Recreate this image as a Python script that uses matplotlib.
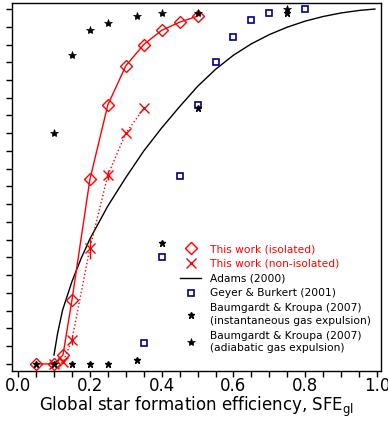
import matplotlib
matplotlib.use("Agg")
import matplotlib.pyplot as plt
from matplotlib.ticker import MultipleLocator, NullFormatter
from matplotlib.lines import Line2D

# ---- data ----
iso_x = [0.05, 0.10, 0.125, 0.15, 0.20, 0.25, 0.30, 0.35, 0.40, 0.45, 0.50]
iso_y = [0.0, 0.0, 0.025, 0.18, 0.52, 0.73, 0.84, 0.90, 0.94, 0.963, 0.98]

noniso_x = [0.10, 0.125, 0.15, 0.20, 0.25, 0.30, 0.35]
noniso_y = [0.0, 0.004, 0.068, 0.326, 0.532, 0.65, 0.72]
noniso_err = [0.0, 0.0, 0.014, 0.03, 0.014, 0.0, 0.0]

adams_x = [0.10, 0.110, 0.124, 0.15, 0.175, 0.20, 0.25, 0.30, 0.35, 0.40,
           0.45, 0.50, 0.55, 0.60, 0.65, 0.70, 0.75, 0.80, 0.85, 0.90, 0.95, 0.994]
adams_y = [0.025, 0.086, 0.152, 0.232, 0.296, 0.352, 0.445, 0.525, 0.60, 0.665,
           0.725, 0.782, 0.830, 0.870, 0.902, 0.928, 0.949, 0.966, 0.979, 0.989,
           0.996, 1.0]

gb_x = [0.35, 0.40, 0.45, 0.50, 0.55, 0.60, 0.65, 0.70, 0.80]
gb_y = [0.06, 0.30, 0.53, 0.73, 0.85, 0.92, 0.97, 0.99, 1.0]

bk_inst_x = [0.05, 0.10, 0.15, 0.20, 0.25, 0.33, 0.40, 0.50, 0.75]
bk_inst_y = [0.0, 0.0, 0.0, 0.0, 0.0, 0.01, 0.34, 0.72, 0.99]

bk_adia_x = [0.10, 0.15, 0.20, 0.25, 0.33, 0.40, 0.50, 0.75]
bk_adia_y = [0.65, 0.87, 0.94, 0.96, 0.98, 0.99, 0.99, 1.0]

labels = ["This work (isolated)", "This work (non-isolated)", "Adams (2000)",
          "Geyer & Burkert (2001)",
          "Baumgardt & Kroupa (2007)\n(instantaneous gas expulsion)",
          "Baumgardt & Kroupa (2007)\n(adiabatic gas expulsion)"]
xlabel = r"Global star formation efficiency, SFE$_{\rm gl}$"

# ---- figure ----
fig = plt.figure(figsize=(3.88, 4.21), dpi=100)
ax = fig.add_axes([12/388, 1-371/421, 369/388, 368/421])

red = "#ff0000"
navy = "#00008b"

ax.plot(adams_x, adams_y, color="black", lw=1.0, zorder=2)
ax.errorbar(noniso_x, noniso_y, yerr=noniso_err, color=red, ls=":", lw=1.0,
            marker="x", ms=7, mew=1.0, elinewidth=1.0, capsize=0, zorder=3)
ax.plot(iso_x, iso_y, color=red, lw=1.0, marker="D", ms=6.5, mfc="none",
        mec=red, mew=1.0, zorder=4)
ax.plot(gb_x, gb_y, ls="none", marker="s", ms=5, mfc="none", mec=navy,
        mew=1.2, zorder=3)
ax.plot(bk_inst_x, bk_inst_y, ls="none", marker="*", ms=4.5, color="black", zorder=5)
ax.plot(bk_adia_x, bk_adia_y, ls="none", marker="*", ms=6, color="black",
        mew=0.5, zorder=5)

ax.set_xlim(-0.017, 1.011)
ax.set_ylim(-0.02, 1.017)

ax.xaxis.set_major_locator(MultipleLocator(0.2))
ax.xaxis.set_minor_locator(MultipleLocator(0.05))
ax.yaxis.set_major_locator(MultipleLocator(0.05))
ax.yaxis.set_major_formatter(NullFormatter())
ax.tick_params(axis="both", which="both", direction="out", length=4, width=1,
               top=False, right=False)
ax.tick_params(axis="x", labelsize=12, pad=0)
ax.set_xlabel(xlabel, fontsize=12, labelpad=0)
for s in ax.spines.values():
    s.set_linewidth(1.0)

handles = [
    Line2D([], [], ls="none", marker="D", ms=6.5, mfc="none", mec=red, mew=1.0),
    Line2D([], [], ls="none", marker="x", ms=7, color=red, mew=1.0),
    Line2D([], [], color="black", lw=1.0),
    Line2D([], [], ls="none", marker="s", ms=5, mfc="none", mec=navy, mew=1.2),
    Line2D([], [], ls="none", marker="*", ms=4.5, color="black"),
    Line2D([], [], ls="none", marker="*", ms=6, color="black", mew=0.5),
]
leg = ax.legend(handles, labels, loc="upper left", bbox_to_anchor=(0.455, 0.345),
                frameon=False, fontsize=7.7, borderpad=0, borderaxespad=0,
                handlelength=2.0, handletextpad=0.8, labelspacing=0.45)
for i, t in enumerate(leg.get_texts()):
    t.set_linespacing(1.3)
    if i < 2:
        t.set_color(red)

fig.savefig("out.png", dpi=100)
